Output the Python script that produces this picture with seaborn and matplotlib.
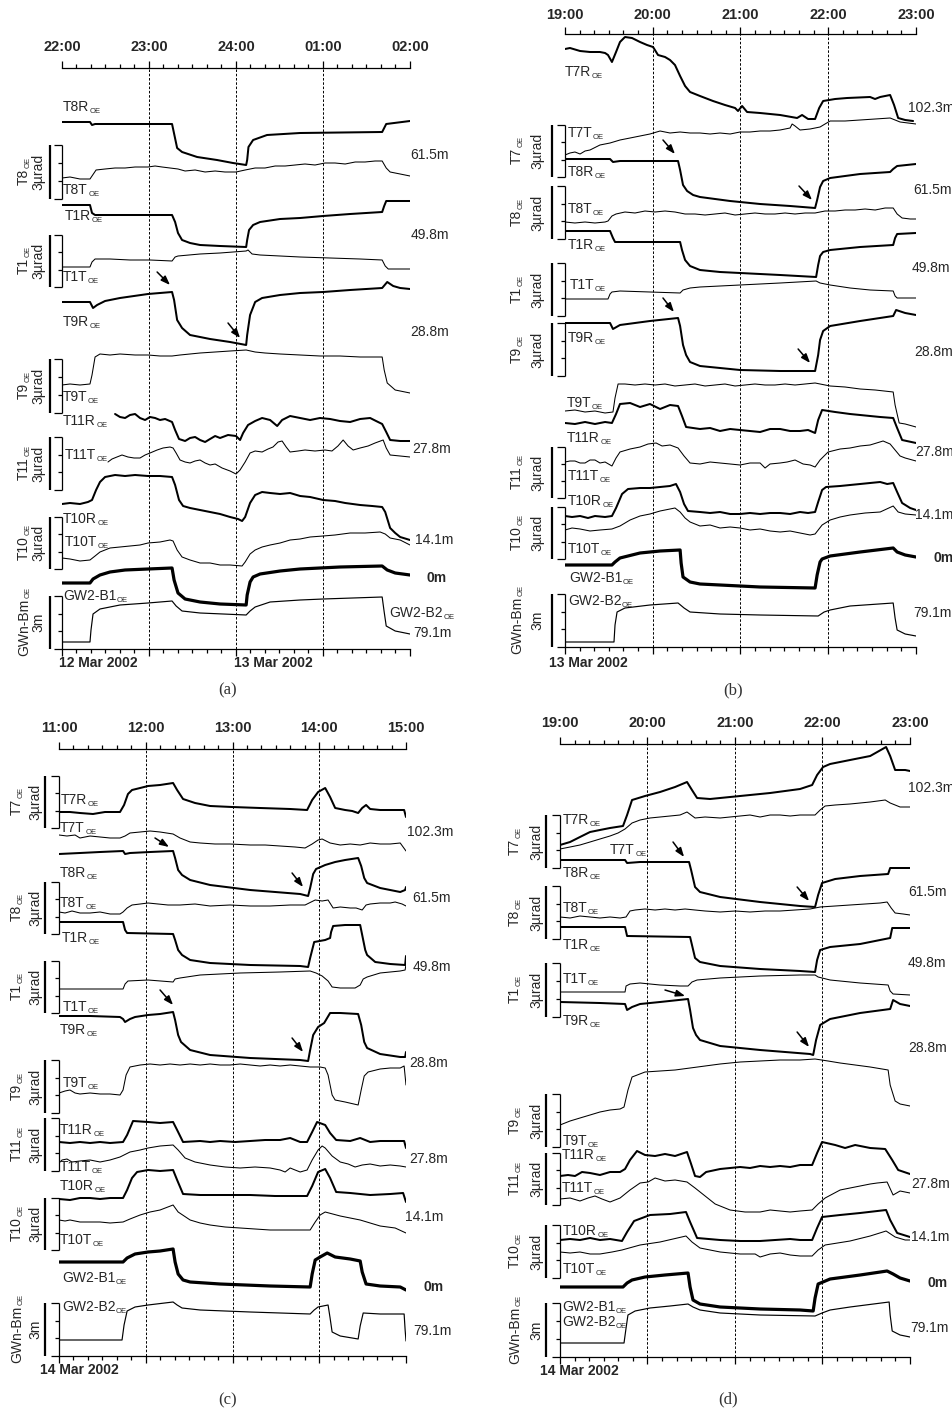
import matplotlib
matplotlib.use("Agg")
import matplotlib.pyplot as plt
import seaborn as sns

sns.set_style("white")
plt.rcParams["font.family"] = ["Liberation Sans", "DejaVu Sans"]

# Time axis: minutes from the first hour of each window.
# Trace values: stacked display offset (arbitrary units, increasing downwards).

# ---------------- (a) 12/13 Mar 2002, 22:00 - 02:00 ----------------
HOURS_A = ["22:00", "23:00", "24:00", "01:00", "02:00"]
A_T8R_T = [0, 19.3, 20.7, 22.8, 75.9, 79.4, 82.8, 93.2, 106.9, 117.9, 127.0, 127.7, 128.6, 131.8, 141.4, 164.2, 220.8, 222.2, 223.6, 240]
A_T8R_V = [54, 54, 57, 56, 56, 80, 84, 89, 92, 95, 97, 92, 79, 72, 67, 65, 64, 60, 56, 53]
A_T8T_T = [0, 5.5, 12.4, 19.3, 20.7, 23.5, 29.7, 36.6, 43.5, 50.4, 59.3, 64.2, 69, 74.5, 80, 84.9, 91.8, 98.7, 105.6, 112.4, 120, 126.3, 133.2, 140, 147, 153.9, 160.8, 167.6, 174.5, 181.4, 188.3, 195.3, 202.2, 209, 215.9, 220.8, 223.6, 226.3, 233.2, 240]
A_T8T_V = [110, 109, 111, 111, 108, 102, 101, 100, 100, 99, 99, 98, 99, 100, 101, 103, 102, 104, 103, 104, 104, 102, 100, 100, 98, 98, 97, 96, 97, 95, 95, 96, 94, 94, 93, 93, 100, 104, 106, 108]
A_T1R_T = [0, 19.3, 20.7, 22.8, 75.9, 78, 80, 82.8, 88.3, 95.2, 109, 127, 127.7, 129, 131.8, 136.6, 150.4, 164.2, 180.1, 198.7, 220.8, 222.2, 223.6, 240]
A_T1R_V = [137, 137, 145, 147, 147, 154, 165, 172, 175, 177, 178, 179, 172, 162, 157, 154, 151, 150, 148, 146, 144, 138, 133, 133]
A_T1T_T = [0, 19.3, 20.7, 22.8, 33.1, 46.9, 60.7, 75.9, 78, 80, 95.2, 109, 127, 128.3, 131.1, 136.6, 150.4, 164.2, 184.9, 205.6, 220.8, 222.9, 225, 240]
A_T1T_V = [199, 199, 194, 191, 191, 192, 192, 193, 189, 188, 186, 185, 183, 182, 186, 187, 188, 189, 190, 191, 192, 198, 201, 201]
A_T9R_T = [0, 19.3, 21.4, 24.2, 29.7, 40, 59.3, 75.9, 77.3, 79.4, 82.8, 88.3, 102.1, 115.9, 127, 127.7, 129.7, 133.2, 138, 150.4, 164.2, 180.1, 198.7, 220.8, 224.3, 228.4, 233.2, 240]
A_T9R_V = [234, 234, 240, 237, 233, 230, 226, 224, 232, 252, 260, 267, 271, 274, 277, 267, 247, 234, 230, 227, 225, 224, 222, 220, 214, 218, 220, 221]
A_T9T_T = [0, 5.5, 12.4, 19.3, 20.7, 22.8, 26.2, 33.1, 40, 50.4, 59.3, 67.6, 75.9, 81.4, 88.3, 95.2, 105.6, 115.9, 127, 133.2, 140, 150.4, 164.2, 177.9, 191.7, 205.6, 220.8, 222.2, 224.3, 229.8, 240]
A_T9T_V = [317, 316, 317, 316, 307, 289, 286, 287, 286, 287, 287, 288, 288, 287, 286, 285, 284, 283, 282, 284, 285, 286, 287, 288, 288, 289, 289, 302, 315, 322, 325]
A_T11R_T = [36.6, 40, 43.5, 46.9, 50.4, 53.8, 57.3, 60.7, 64.2, 67.6, 71.1, 75.9, 78, 80.7, 84.9, 88.3, 91.8, 95.2, 98.7, 102.1, 105.6, 109, 114.5, 120, 122.8, 124.9, 128.3, 133.2, 138, 143.5, 148.4, 151.8, 157.3, 164.2, 171.1, 177.9, 184.9, 191.7, 198.7, 205.6, 212.5, 216.6, 220.8, 223.6, 226.3, 233.2, 240]
A_T11R_V = [346, 349, 350, 347, 346, 350, 352, 349, 350, 352, 351, 354, 362, 371, 373, 370, 369, 372, 374, 371, 368, 370, 367, 368, 372, 365, 357, 353, 350, 352, 358, 352, 348, 350, 352, 350, 351, 353, 354, 351, 350, 353, 356, 364, 372, 373, 373]
A_T11T_T = [31.7, 34.5, 37.9, 41.4, 45.5, 49.7, 53.8, 57.3, 60.7, 65.6, 69.7, 74.5, 76.6, 78.7, 81.4, 84.9, 88.3, 91.8, 95.2, 98.7, 102.1, 105.6, 110.4, 115.9, 120, 122.8, 126.3, 129.7, 133.2, 138, 142.1, 145.5, 149, 151.8, 154.6, 157.3, 162.8, 167.6, 174.5, 181.4, 186.2, 190.3, 193.9, 197.3, 200.8, 205.6, 211.1, 215.9, 221.5, 223.6, 226.3, 233.2, 240]
A_T11T_V = [394, 391, 389, 387, 389, 390, 390, 387, 385, 382, 380, 379, 380, 385, 392, 394, 395, 393, 392, 395, 397, 396, 400, 403, 406, 402, 394, 385, 383, 384, 381, 379, 374, 373, 379, 384, 383, 382, 383, 382, 383, 378, 372, 378, 382, 380, 378, 375, 372, 380, 387, 388, 389]
A_T10R_T = [0, 5.5, 12.4, 17.9, 20.7, 23.5, 26.2, 29.7, 36.6, 43.5, 50.4, 59.3, 67.6, 75.9, 78, 80.7, 83.5, 88.3, 95.2, 102.1, 109, 115.9, 121.4, 124.2, 126.3, 129.7, 133.2, 138, 143.5, 150.4, 157.3, 164.2, 171.1, 180.1, 188.3, 195.3, 205.6, 213.9, 220.8, 222.9, 226.3, 229.8, 233.2, 240]
A_T10R_V = [436, 435, 436, 434, 432, 422, 414, 409, 407, 408, 407, 408, 408, 409, 417, 432, 438, 440, 442, 444, 446, 449, 451, 453, 449, 435, 427, 424, 425, 426, 425, 428, 429, 432, 433, 435, 437, 438, 439, 444, 460, 465, 469, 472]
A_T10T_T = [0, 5.5, 12.4, 19.3, 22.8, 26.2, 33.1, 40, 46.9, 53.8, 59.3, 67.6, 74.5, 76.6, 79.4, 82.8, 88.3, 95.2, 102.1, 109, 115.9, 124.2, 126.3, 129.7, 133.2, 138, 143.5, 150.4, 157.3, 164.2, 171.1, 180.1, 188.3, 198.7, 209, 219.4, 222.9, 226.3, 233.2, 240]
A_T10T_V = [490, 491, 493, 492, 488, 484, 480, 479, 478, 477, 475, 474, 472, 473, 482, 489, 492, 495, 495, 497, 497, 498, 494, 486, 482, 479, 477, 475, 472, 471, 469, 468, 467, 465, 465, 464, 466, 470, 472, 477]
A_B1_T = [0, 19.3, 21.4, 26.2, 33.1, 43.5, 59.3, 75.9, 77.3, 80, 84.9, 95.2, 109, 127, 127.7, 129.7, 131.8, 136.6, 150.4, 164.2, 191.7, 220.8, 224.3, 229.8, 240]
A_B1_V = [515, 515, 511, 507, 504, 502, 501, 500, 512, 525, 531, 534, 536, 537, 527, 514, 509, 506, 503, 501, 499, 498, 502, 505, 507]
A_B2_T = [0, 19.3, 20, 21.4, 26.2, 33.1, 40, 59.3, 75.9, 78.7, 82.8, 95.2, 127, 129.7, 133.2, 143.5, 164.2, 180.1, 220.8, 222.2, 223.6, 229.8, 240]
A_B2_V = [574, 574, 562, 546, 541, 539, 537, 535, 533, 538, 543, 545, 547, 543, 539, 534, 532, 531, 529, 544, 558, 563, 566]

# ---------------- (b) 13 Mar 2002, 19:00 - 23:00 ----------------
HOURS_B = ["19:00", "20:00", "21:00", "22:00", "23:00"]
B_T7R_T = [0, 3.4, 10.3, 17.1, 23.9, 27.4, 29.4, 32.1, 34.9, 37.6, 41, 45.8, 51.3, 56.1, 60.2, 63.6, 68.4, 71.8, 75.2, 78.7, 82.1, 85.5, 92.3, 101.2, 109.4, 116.3, 118.3, 121.1, 124.5, 133.4, 147.1, 158.7, 162.1, 166.2, 171, 173.8, 176.5, 184.7, 192.9, 208.6, 212, 215.5, 222.3, 225, 227.8, 232.6, 238]
B_T7R_V = [15, 14, 17, 18, 18, 19, 21, 28, 18, 8, 3, 4, 8, 11, 13, 21, 23, 26, 31, 42, 52, 58, 62, 67, 71, 74, 77, 72, 78, 79, 81, 84, 81, 85, 85, 74, 67, 65, 64, 63, 65, 63, 61, 71, 84, 86, 87]
B_T7T_T = [0, 3.4, 6.8, 10.3, 13.7, 17.1, 23.9, 30.8, 37.6, 44.5, 51.3, 58.1, 65, 71.8, 78.7, 85.5, 92.3, 99.2, 106, 112.9, 119.7, 126.5, 133.4, 140.2, 147.1, 153.9, 155.3, 157.3, 160.7, 167.6, 174.4, 177.8, 181.3, 191.5, 201.8, 212.1, 222.3, 229.1, 240]
B_T7T_V = [121, 119, 118, 120, 117, 116, 111, 109, 106, 104, 102, 100, 97, 99, 98, 99, 99, 100, 99, 100, 98, 98, 97, 97, 96, 94, 90, 92, 96, 95, 93, 90, 87, 87, 86, 85, 84, 88, 90]
B_T8R_T = [0, 30.8, 32.8, 37.6, 77.3, 78.7, 80.7, 83.5, 87.6, 92.3, 102.6, 112.9, 133.4, 153.9, 171, 172.4, 174.4, 176.5, 181.3, 191.5, 201.8, 222.3, 224.4, 227.1, 240]
B_T8R_V = [125, 125, 128, 127, 127, 136, 151, 157, 161, 163, 165, 167, 170, 172, 174, 166, 153, 147, 144, 142, 140, 138, 135, 132, 130]
B_T8T_T = [0, 6.8, 13.7, 20.5, 27.4, 29.4, 32.1, 34.9, 41, 47.9, 54.7, 61.6, 68.4, 75.2, 82.1, 88.9, 95.8, 102.6, 109.4, 116.3, 123.1, 129.9, 136.8, 143.6, 150.5, 157.3, 164.2, 171, 177.8, 184.7, 191.5, 198.4, 205.2, 212.1, 218.9, 224.4, 227.1, 230.5, 236, 240]
B_T8T_V = [188, 189, 188, 189, 188, 187, 182, 180, 178, 179, 177, 178, 177, 178, 180, 180, 181, 180, 179, 181, 180, 179, 180, 180, 179, 180, 179, 179, 177, 177, 176, 176, 175, 176, 174, 174, 180, 184, 185, 185]
B_T1R_T = [0, 30.8, 32.8, 34.2, 78.7, 80, 82.1, 85.5, 92.3, 106, 119.7, 147.1, 171.7, 173.1, 174.4, 176.5, 181.3, 201.8, 224.4, 225.7, 227.1, 240]
B_T1R_V = [197, 197, 204, 208, 208, 216, 226, 232, 236, 238, 239, 241, 243, 231, 222, 218, 216, 213, 211, 204, 200, 199]
B_T1T_T = [0, 29.4, 30.8, 32.1, 37.6, 58.1, 78.7, 80.7, 85.5, 92.3, 119.7, 147.1, 171.7, 174.4, 181.3, 194.9, 208.6, 224.4, 225.7, 227.1, 240]
B_T1T_V = [265, 265, 260, 258, 257, 258, 259, 256, 254, 253, 251, 249, 247, 249, 251, 254, 256, 257, 262, 264, 264]
B_T9R_T = [0, 30.8, 32.8, 37.6, 58.1, 77.3, 78.7, 80.7, 82.8, 85.5, 92.3, 106, 119.7, 147.1, 171, 173.1, 174.4, 176.5, 181.3, 201.8, 224.4, 226.4, 232.6, 240]
B_T9R_V = [289, 289, 295, 291, 287, 284, 292, 311, 321, 328, 332, 334, 336, 337, 337, 321, 306, 297, 292, 287, 282, 276, 279, 281]
B_T9T_T = [0, 6.8, 13.7, 20.5, 27.4, 32.8, 34.2, 36.3, 41, 47.9, 54.7, 61.6, 68.4, 75.2, 82.1, 88.9, 95.8, 102.6, 109.4, 116.3, 123.1, 129.9, 136.8, 143.6, 150.5, 157.3, 164.2, 171, 181.3, 191.5, 201.8, 212.1, 224.4, 225.7, 228.5, 232.6, 240]
B_T9T_V = [377, 376, 378, 377, 379, 378, 364, 350, 350, 351, 350, 351, 350, 352, 351, 350, 352, 351, 350, 352, 351, 350, 351, 351, 350, 351, 350, 349, 352, 353, 355, 356, 358, 371, 389, 390, 393]
B_T11R_T = [0, 6.8, 13.7, 20.5, 27.4, 32.1, 34.9, 37.6, 44.5, 51.3, 58.1, 65, 71.8, 77.3, 80, 82.8, 92.3, 99.2, 106, 112.9, 119.7, 126.5, 133.4, 140.2, 147.1, 153.9, 160.7, 166.2, 171, 173.1, 175.8, 184.7, 194.9, 201.8, 208.6, 215.5, 224.4, 227.1, 230.5, 240]
B_T11R_V = [389, 390, 388, 390, 388, 389, 380, 370, 369, 373, 370, 375, 371, 372, 382, 393, 395, 394, 397, 395, 396, 397, 398, 395, 395, 397, 397, 396, 399, 386, 376, 378, 380, 381, 382, 383, 384, 394, 406, 409]
B_T11T_T = [0, 3.4, 6.8, 10.3, 13.7, 17.1, 20.5, 23.9, 27.4, 32.1, 34.9, 37.6, 44.5, 51.3, 56.8, 62.3, 66.4, 71.8, 77.3, 81.4, 85.5, 92.3, 99.2, 106, 112.9, 119.7, 126.5, 133.4, 136.8, 140.2, 147.1, 151.9, 157.3, 162.8, 167.6, 171, 174.4, 179.9, 188.1, 194.9, 201.8, 208.6, 217.5, 222.3, 225.7, 229.1, 232.6, 240]
B_T11T_V = [428, 427, 427, 429, 429, 426, 426, 429, 428, 432, 424, 418, 415, 413, 410, 409, 412, 411, 414, 422, 429, 430, 428, 429, 430, 431, 429, 429, 434, 430, 429, 428, 426, 430, 431, 433, 426, 418, 415, 414, 412, 411, 407, 410, 416, 422, 424, 427]
B_T10R_T = [0, 4.8, 10.3, 15.7, 20.5, 27.4, 32.1, 34.9, 39, 43.1, 51.3, 58.1, 65, 71.8, 75.9, 78.7, 81.4, 84.1, 92.3, 99.2, 106, 112.9, 119.7, 126.5, 133.4, 140.2, 147.1, 153.9, 160.7, 166.2, 171, 173.1, 175.8, 178.5, 188.1, 194.9, 201.8, 208.6, 215.5, 220.3, 224.4, 227.1, 230.5, 236, 240]
B_T10R_V = [482, 483, 482, 484, 482, 483, 482, 474, 460, 455, 454, 454, 453, 452, 450, 458, 470, 477, 478, 479, 478, 480, 480, 479, 480, 479, 479, 480, 478, 479, 478, 468, 456, 453, 452, 451, 450, 449, 448, 450, 449, 458, 469, 474, 476]
B_T10T_T = [0, 4.8, 10.3, 17.1, 23.9, 32.1, 37.6, 44.5, 51.3, 58.1, 65, 75.2, 78.7, 82.1, 85.5, 92.3, 99.2, 106, 112.9, 119.7, 126.5, 133.4, 140.2, 147.1, 153.9, 160.7, 167.6, 171, 175.8, 181.3, 188.1, 194.9, 205.2, 215.5, 224.4, 227.8, 232.6, 240]
B_T10T_V = [496, 494, 495, 497, 496, 495, 492, 486, 482, 480, 477, 474, 478, 484, 488, 492, 491, 494, 493, 494, 496, 495, 497, 498, 497, 499, 501, 500, 491, 486, 483, 481, 479, 478, 472, 478, 480, 481]
B_B1_T = [0, 32.1, 34.2, 37.6, 51.3, 65, 78.7, 79.4, 80.7, 85.5, 92.3, 106, 133.4, 171, 172.4, 174.4, 175.8, 181.3, 201.8, 224.4, 227.1, 232.6, 240]
B_B1_V = [531, 531, 528, 524, 519, 517, 516, 529, 543, 548, 550, 551, 553, 554, 541, 528, 525, 522, 518, 514, 518, 521, 523]
B_B2_T = [0, 33.5, 34.2, 35.6, 41, 58.1, 77.3, 81.4, 85.5, 106, 133.4, 173.1, 177.2, 181.3, 194.9, 224.4, 225.7, 227.1, 232.6, 240]
B_B2_V = [608, 608, 591, 578, 574, 571, 569, 574, 578, 580, 581, 582, 578, 576, 572, 569, 584, 596, 600, 602]

# ---------------- (c) 14 Mar 2002, 11:00 - 15:00 ----------------
HOURS_C = ["11:00", "12:00", "13:00", "14:00", "15:00"]
C_T7R_T = [0, 7.6, 14.5, 23.5, 31.8, 42.2, 45, 47.7, 50.5, 56.1, 61.6, 69.9, 78.9, 81.7, 85.8, 94.1, 104.5, 119.7, 139.1, 159.9, 171.6, 175.1, 179.2, 184.1, 187.5, 191, 197.9, 202.8, 206.9, 209.7, 212.4, 215.2, 222.1, 229.1, 238.7, 240]
C_T7R_V = [63, 63, 64, 65, 63, 63, 56, 45, 41, 39, 37, 36, 34, 41, 50, 54, 57, 58, 59, 60, 61, 51, 43, 39, 48, 59, 61, 62, 64, 59, 56, 60, 61, 61, 61, 68]
C_T7T_T = [0, 5.5, 11.1, 14.5, 21.5, 28.4, 35.3, 42.2, 45.7, 49.1, 56.1, 63, 69.9, 78.9, 83.7, 90.7, 97.6, 107.9, 118.3, 132.2, 142.6, 152.9, 163.3, 170.2, 175.1, 179.2, 182, 187.5, 194.5, 201.4, 208.3, 215.2, 222.1, 229.1, 236, 240]
C_T7T_V = [86, 87, 86, 89, 87, 88, 89, 89, 87, 84, 83, 82, 83, 85, 89, 93, 94, 95, 95, 96, 96, 97, 98, 99, 95, 91, 90, 94, 96, 95, 96, 94, 95, 95, 94, 102]
C_T8R_T = [0, 14.5, 28.4, 44.3, 45.7, 49.1, 63, 78.9, 80.3, 82.4, 85.1, 90.7, 104.5, 132.2, 166.8, 172.3, 173.7, 175.8, 177.8, 184.1, 191, 197.9, 206.9, 209, 211.1, 213.1, 222.1, 236, 239.4, 240]
C_T8R_V = [105, 104, 103, 102, 105, 104, 103, 102, 109, 121, 126, 131, 136, 141, 145, 147, 139, 125, 120, 116, 113, 111, 109, 117, 129, 134, 139, 143, 141, 138]
C_T8T_T = [0, 4.2, 9, 14.5, 21.5, 28.4, 35.3, 42.2, 44.3, 47.1, 50.5, 56.1, 61.6, 68.5, 75.4, 83.7, 94.1, 104.5, 118.3, 132.2, 146, 159.9, 170.2, 177.2, 182, 186.1, 189.6, 194.5, 201.4, 205.5, 209.7, 212.4, 215.2, 222.1, 229.1, 232.5, 237.3, 240]
C_T8T_V = [163, 164, 162, 164, 164, 163, 165, 165, 163, 159, 156, 155, 154, 155, 156, 156, 155, 157, 156, 157, 157, 156, 156, 151, 152, 151, 159, 158, 159, 159, 161, 156, 155, 154, 154, 153, 155, 157]
C_T1R_T = [0, 44.3, 45.7, 47.1, 78.9, 80.3, 82.4, 85.1, 90.7, 104.5, 132.2, 166.8, 172.3, 173.7, 176.5, 184.1, 187.5, 188.2, 189.6, 197.9, 208.3, 209.7, 211.8, 213.1, 218.7, 229.1, 239.4, 240]
C_T1R_V = [173, 173, 181, 184, 185, 191, 201, 206, 211, 214, 216, 217, 218, 209, 193, 191, 189, 183, 177, 176, 176, 186, 201, 206, 213, 215, 216, 207]
C_T1T_T = [0, 44.3, 45.7, 47.7, 61.6, 78.9, 80.3, 83.7, 97.6, 125.3, 152.9, 173.7, 177.8, 182, 186.1, 188.9, 194.5, 204.8, 208.3, 210.4, 213.1, 222.1, 236, 239.4, 240]
C_T1T_V = [240, 240, 235, 232, 231, 233, 230, 229, 226, 224, 223, 222, 224, 227, 232, 238, 239, 239, 236, 230, 228, 224, 222, 221, 215]
C_T9R_T = [0, 21.5, 42.2, 44.3, 45.7, 49.1, 52.6, 61.6, 69.9, 78.9, 80.3, 82.4, 84.4, 90.7, 104.5, 132.2, 166.8, 172.3, 173.7, 175.8, 179.2, 183.4, 187.5, 194.5, 206.9, 209, 211.1, 213.1, 222.1, 236, 239.4, 240]
C_T9R_V = [267, 267, 268, 270, 273, 270, 268, 266, 265, 263, 271, 286, 293, 301, 306, 309, 311, 312, 301, 286, 278, 274, 264, 264, 265, 276, 293, 299, 305, 308, 308, 303]
C_T9T_T = [0, 4.2, 7.6, 11.1, 14.5, 21.5, 28.4, 35.3, 42.2, 44.3, 46.4, 49.1, 56.1, 63, 69.9, 76.8, 83.7, 90.7, 97.6, 104.5, 111.4, 118.3, 125.3, 132.2, 139.1, 146, 152.9, 159.9, 166.8, 173.7, 180.6, 184.1, 186.1, 188.9, 191, 197.9, 206.9, 209, 211.1, 213.8, 222.1, 229.1, 236, 238.7, 240]
C_T9T_V = [344, 342, 341, 344, 345, 344, 345, 345, 346, 341, 326, 318, 316, 315, 316, 315, 316, 315, 316, 315, 316, 316, 315, 316, 317, 316, 317, 316, 317, 318, 318, 319, 326, 346, 351, 353, 356, 341, 327, 323, 320, 319, 319, 317, 336]
C_T11R_T = [0, 7.6, 14.5, 21.5, 28.4, 35.3, 44.3, 47.1, 51.2, 61.6, 69.9, 78.9, 81.7, 85.8, 97.6, 104.5, 111.4, 121.8, 132.2, 142.6, 152.9, 159.9, 166.8, 171.6, 175.1, 178.5, 184.1, 187.5, 191.7, 201.4, 208.3, 215.2, 222.1, 229.1, 238.7, 240]
C_T11R_V = [393, 394, 393, 394, 393, 394, 393, 386, 372, 373, 374, 373, 381, 393, 392, 393, 392, 393, 392, 391, 391, 389, 393, 393, 383, 373, 376, 384, 391, 392, 389, 393, 392, 392, 392, 399]
C_T11T_T = [0, 2.1, 5.5, 9, 14.5, 21.5, 28.4, 35.3, 42.2, 49.1, 56.1, 61.6, 69.9, 78.9, 82.4, 87.2, 94.1, 104.5, 114.9, 125.3, 135.6, 146, 152.9, 156.4, 159.9, 163.3, 166.8, 171.6, 175.1, 179.2, 182, 184.1, 188.9, 194.5, 200, 204.8, 209.7, 215.2, 222.1, 229.1, 236, 240]
C_T11T_V = [414, 411, 410, 413, 412, 411, 413, 411, 408, 403, 401, 399, 397, 396, 401, 409, 413, 416, 418, 419, 418, 419, 421, 423, 419, 421, 423, 421, 411, 401, 397, 399, 407, 413, 415, 418, 416, 415, 417, 416, 417, 418]
C_T10R_T = [0, 7.6, 14.5, 21.5, 28.4, 35.3, 44.3, 47.1, 50.5, 54, 61.6, 69.9, 78.9, 81.7, 85.8, 97.6, 114.9, 132.2, 149.4, 166.8, 171.6, 175.1, 179.2, 184.1, 187.5, 191.7, 201.4, 215.2, 229.1, 238, 240]
C_T10R_V = [450, 451, 449, 449, 450, 449, 449, 441, 429, 423, 421, 422, 421, 431, 445, 446, 446, 446, 447, 447, 447, 437, 423, 420, 429, 443, 444, 446, 445, 444, 453]
C_T10T_T = [0, 4.2, 7.6, 14.5, 21.5, 28.4, 35.3, 44.3, 49.1, 56.1, 63, 69.9, 78.9, 82.4, 90.7, 97.6, 104.5, 114.9, 125.3, 135.6, 146, 156.4, 166.8, 173.7, 177.2, 180.6, 184.1, 194.5, 208.3, 215.2, 222.1, 232.5, 240]
C_T10T_V = [471, 472, 471, 473, 473, 473, 474, 473, 470, 466, 463, 461, 456, 463, 471, 474, 476, 478, 479, 480, 481, 481, 481, 481, 473, 466, 463, 467, 471, 474, 477, 479, 484]
C_B1_T = [0, 44.3, 47.1, 52.6, 61.6, 69.9, 78.9, 80.3, 82.4, 85.8, 90.7, 111.4, 146, 173.7, 175.1, 177.2, 180.6, 185.5, 191, 201.4, 208.3, 209.7, 212.4, 222.1, 236, 240]
C_B1_V = [513, 513, 509, 505, 503, 502, 500, 513, 525, 531, 533, 535, 537, 538, 525, 511, 508, 504, 508, 510, 512, 523, 535, 537, 538, 541]
C_B2_T = [0, 43.6, 45, 47.1, 52.6, 61.6, 78.9, 81.7, 85.1, 97.6, 132.2, 173.7, 176.5, 179.2, 186.1, 187.5, 188.9, 194.5, 206.9, 208.3, 210.4, 222.1, 238.7, 239.4, 240]
C_B2_V = [591, 591, 576, 562, 558, 556, 553, 556, 559, 561, 563, 565, 561, 558, 556, 569, 583, 587, 590, 577, 564, 565, 565, 581, 592]

# ---------------- (d) 14 Mar 2002, 19:00 - 23:00 ----------------
HOURS_D = ["19:00", "20:00", "21:00", "22:00", "23:00"]
D_T7R_T = [0, 6.9, 13.7, 20.6, 27.4, 34.3, 43.2, 46, 49.4, 58.3, 68.6, 78.9, 87.1, 90.5, 94, 102.9, 123.5, 144.1, 164.6, 172.9, 176.3, 180.4, 185.2, 198.9, 212.7, 223.6, 226.4, 229.8, 236.7, 240]
D_T7R_V = [101, 98, 93, 88, 86, 84, 82, 71, 56, 52, 48, 43, 38, 46, 54, 55, 52, 49, 45, 41, 31, 23, 20, 16, 12, 3, 12, 26, 26, 27]
D_T7T_T = [0, 6.9, 13.7, 20.6, 27.4, 34.3, 39.8, 44.6, 49.4, 54.9, 61.7, 68.6, 75.5, 82.3, 87.1, 92.6, 99.5, 109.8, 116.6, 123.5, 130.3, 137.2, 144.1, 150.9, 157.8, 164.6, 174.9, 178.4, 181.8, 188.7, 198.9, 205.8, 212.7, 223, 226.4, 233.2, 240]
D_T7T_V = [105, 103, 101, 98, 95, 92, 89, 85, 79, 76, 74, 73, 72, 71, 68, 74, 73, 74, 73, 72, 71, 73, 71, 71, 72, 71, 71, 66, 62, 61, 60, 59, 58, 56, 59, 63, 63]
D_T8R_T = [0, 44.6, 46, 54.9, 88.5, 89.9, 92.6, 96, 109.8, 137.2, 164.6, 174.9, 177, 179.7, 188.7, 205.8, 225, 226.4, 240]
D_T8R_V = [116, 116, 119, 118, 118, 126, 143, 148, 153, 158, 162, 163, 151, 139, 135, 132, 130, 124, 124]
D_T8T_T = [0, 6.9, 13.7, 20.6, 27.4, 34.3, 41.2, 45.3, 48, 51.5, 58.3, 65.2, 72, 78.9, 85.8, 92.6, 99.5, 109.8, 120.1, 130.3, 140.6, 150.9, 161.2, 171.5, 178.4, 188.7, 198.9, 209.2, 219.5, 224.3, 227.1, 229.8, 235.3, 240]
D_T8T_V = [173, 174, 172, 173, 174, 173, 174, 173, 167, 166, 165, 166, 165, 166, 165, 166, 167, 168, 167, 168, 167, 167, 166, 165, 163, 162, 161, 160, 159, 158, 164, 169, 170, 171]
D_T1R_T = [0, 44.6, 46, 89.2, 90.5, 92.6, 96, 109.8, 137.2, 164.6, 174.9, 176.3, 178.4, 185.2, 205.8, 226.4, 227.8, 240]
D_T1R_V = [183, 183, 192, 193, 201, 214, 218, 222, 225, 227, 228, 216, 206, 203, 200, 194, 184, 184]
D_T1T_T = [0, 44.6, 45.3, 48, 54.9, 68.6, 82.3, 87.8, 90.5, 94, 109.8, 137.2, 164.6, 174.9, 177, 185.2, 205.8, 225, 226.4, 228.4, 240]
D_T1T_V = [248, 248, 242, 240, 239, 241, 242, 242, 238, 236, 234, 232, 231, 231, 233, 236, 239, 241, 247, 250, 251]
D_T9R_T = [0, 27.4, 44.6, 46, 49.4, 54.9, 68.6, 87.8, 89.2, 91.2, 93.3, 96, 109.8, 137.2, 171.5, 173.6, 175.6, 178.4, 185.2, 205.8, 226.4, 228.4, 233.2, 240]
D_T9R_V = [258, 259, 260, 266, 263, 260, 258, 255, 266, 284, 291, 296, 302, 306, 310, 311, 296, 281, 275, 269, 265, 256, 260, 262]
D_T9T_T = [0, 6.9, 13.7, 20.6, 27.4, 34.3, 41.2, 43.9, 46.6, 49.4, 58.3, 68.6, 78.9, 89.2, 99.5, 109.8, 123.5, 137.2, 150.9, 164.6, 174.9, 183.8, 192.1, 202.4, 212.7, 225, 226.4, 229.8, 233.2, 240]
D_T9T_V = [381, 377, 374, 371, 368, 366, 365, 363, 346, 333, 328, 327, 326, 324, 322, 320, 318, 317, 316, 316, 315, 317, 319, 321, 323, 326, 341, 357, 360, 362]
D_T11R_T = [0, 5.5, 10.3, 15.1, 20.6, 27.4, 34.3, 41.2, 44.6, 48, 52.8, 58.3, 65.2, 72, 78.9, 87.1, 89.9, 92.6, 96, 100.2, 109.8, 123.5, 130.3, 137.2, 144.1, 150.9, 157.8, 164.6, 172.9, 176.3, 179.7, 188.7, 195.5, 202.4, 212.7, 223, 227.8, 231.9, 240]
D_T11R_V = [432, 431, 432, 428, 429, 431, 428, 428, 425, 416, 407, 411, 412, 410, 412, 408, 420, 432, 433, 428, 425, 423, 424, 422, 423, 422, 423, 421, 421, 409, 398, 401, 404, 401, 404, 405, 416, 426, 430]
D_T11T_T = [0, 6.9, 13.7, 19.2, 24, 28.8, 34.3, 41.2, 48, 54.9, 60.4, 65.2, 72, 78.9, 87.1, 92.6, 99.5, 106.4, 116.6, 126.9, 137.2, 144.1, 150.9, 157.8, 164.6, 172.9, 177, 181.8, 192.1, 198.9, 205.8, 212.7, 217.5, 224.3, 228.4, 233.2, 240]
D_T11T_V = [455, 454, 457, 454, 452, 455, 458, 454, 446, 439, 438, 434, 437, 436, 438, 444, 452, 460, 466, 468, 468, 466, 467, 468, 467, 466, 460, 454, 446, 444, 442, 440, 439, 438, 451, 447, 449]
D_T10R_T = [0, 6.9, 13.7, 20.6, 27.4, 34.3, 42.5, 46, 50.8, 61.7, 75.5, 86.4, 89.2, 94, 109.8, 123.5, 137.2, 147.5, 157.8, 164.6, 172.9, 176.3, 179.7, 192.1, 205.8, 223.6, 226.4, 231.2, 240]
D_T10R_V = [496, 495, 496, 494, 496, 495, 497, 488, 477, 471, 470, 468, 478, 494, 496, 497, 497, 496, 495, 496, 496, 484, 473, 471, 469, 466, 476, 489, 493]
D_T10T_T = [0, 6.9, 13.7, 20.6, 27.4, 35.7, 42.5, 54.9, 68.6, 86.4, 90.5, 96, 109.8, 123.5, 133.8, 137.2, 144.1, 150.9, 157.8, 164.6, 172.9, 177, 181.8, 198.9, 212.7, 223.6, 229.8, 236.7, 240]
D_T10T_V = [508, 509, 508, 510, 510, 508, 506, 501, 498, 492, 498, 504, 508, 510, 510, 513, 510, 509, 511, 512, 512, 506, 501, 497, 492, 487, 493, 496, 496]
D_B1_T = [0, 43.2, 46, 49.4, 58.3, 72, 87.8, 89.2, 91.2, 96, 109.8, 137.2, 164.6, 173.6, 174.9, 177, 185.2, 205.8, 224.3, 228.4, 233.2, 240]
D_B1_V = [543, 543, 539, 536, 533, 531, 529, 543, 556, 560, 563, 565, 566, 567, 554, 540, 535, 531, 527, 530, 534, 537]
D_B2_T = [0, 43.9, 45.3, 46.6, 51.5, 61.7, 75.5, 87.8, 91.2, 96, 109.8, 137.2, 174.9, 179.7, 185.2, 198.9, 225.7, 226.4, 227.8, 233.2, 240]
D_B2_V = [599, 599, 584, 571, 567, 564, 562, 560, 563, 566, 569, 571, 572, 569, 566, 563, 558, 571, 587, 591, 593]

# ---------------- drawing ----------------
W_PX, H_PX = 953, 1414
FS = 10
SUB_FS = 5.5
LW = {"R": 1.45, "T": 0.75, "B1": 2.3, "B2": 0.85}
URAD = "3\u00b5rad"


def trace(ax, t, v, kind):
    sns.lineplot(x=t, y=v, ax=ax, color="black", linewidth=LW[kind],
                 sort=False, estimator=None, legend=False)


def name_label(ax, x, y, main):
    t = ax.text(x, y, main, fontsize=FS, ha="left", va="center")
    ax.annotate("OE", xy=(1, 0), xycoords=t, xytext=(0.3, -1.0),
                textcoords="offset points", fontsize=SUB_FS, ha="left", va="bottom")


def scale_bar(ax, name, unit, top, bot, xs):
    x_out, x_name, x_unit = xs
    kw = dict(color="black", lw=0.9, clip_on=False, solid_capstyle="butt")
    ax.plot([0, 0], [top, bot], **kw)
    for y in (top, bot):
        ax.plot([-5.5, 0], [y, y], **kw)
    for f in (1 / 3, 2 / 3):
        y = top + (bot - top) * f
        ax.plot([-2.6, 0], [y, y], **kw)
    ax.plot([x_out, x_out], [top, bot], color="black", lw=1.6, clip_on=False,
            solid_capstyle="butt")
    mid = (top + bot) / 2
    t = ax.text(x_name, mid + 5, name, rotation=90, ha="center", va="center", fontsize=FS)
    ax.annotate("OE", xy=(1, 1), xycoords=t, xytext=(0.4, 0.6), textcoords="offset points",
                rotation=90, ha="right", va="bottom", fontsize=SUB_FS)
    ax.text(x_unit, mid, unit, rotation=90, ha="center", va="center", fontsize=FS)


def draw_panel(fig, p):
    x0, x1, top, bot = p["frame"]
    ax = fig.add_axes([x0 / W_PX, 1 - bot / H_PX, (x1 - x0) / W_PX, (bot - top) / H_PX])
    ax.set_xlim(0, 240)
    ax.set_ylim(bot - top, 0)
    for m in (60, 120, 180):
        ax.axvline(m, color="black", lw=0.7, ls=(0, (2.6, 1.8)), zorder=1)
    for t, v, kind in p["traces"]:
        trace(ax, t, v, kind)
    for main, x, y in p["names"]:
        name_label(ax, x, y, main)
    for txt, x, y, bold in p["depths"]:
        ax.text(x, y, txt, fontsize=10, ha="left", va="center",
                fontweight="bold" if bold else "normal")
    for name, unit, bt, bb in p["bars"]:
        scale_bar(ax, name, unit, bt, bb, p["bar_x"])
    for (tx, ty), (hx, hy) in p["arrows"]:
        ax.annotate("", xy=(hx, hy), xytext=(tx, ty),
                    arrowprops=dict(arrowstyle="-|>,head_length=0.6,head_width=0.22",
                                    color="black", lw=1.1, shrinkA=0, shrinkB=0,
                                    mutation_scale=9))
    for txt, x, y in p["dates"]:
        ax.text(x, y, txt, fontsize=10, fontweight="bold", ha="left", va="center")
    cx, cy = p["caption_xy"]
    ax.text(cx, cy, p["caption"], fontsize=12, ha="center", va="center",
            family=["Liberation Serif", "DejaVu Serif"], color="#333333")

    ax.set_xticks([0, 60, 120, 180, 240])
    ax.set_xticks(range(0, 241, 10), minor=True)
    ax.set_xticklabels(p["hours"], fontsize=10.5, fontweight="bold")
    ax.tick_params(axis="x", which="both", direction="out", top=True, bottom=True,
                   labeltop=True, labelbottom=False, width=0.9, color="black")
    ax.tick_params(axis="x", which="major", length=5, pad=p["pad"])
    ax.tick_params(axis="x", which="minor", length=3)
    ax.set_yticks([])
    ax.set_xlabel("")
    ax.set_ylabel("")
    for s in ("left", "right"):
        ax.spines[s].set_visible(False)
    for s in ("top", "bottom"):
        ax.spines[s].set_visible(True)
        ax.spines[s].set_linewidth(0.9)
        ax.spines[s].set_color("black")
    ax.patch.set_alpha(0)
    return ax


PANELS = [
    dict(frame=(62, 410, 68, 649), hours=HOURS_A, pad=5,
         traces=[(A_T8R_T, A_T8R_V, "R"), (A_T8T_T, A_T8T_V, "T"),
                 (A_T1R_T, A_T1R_V, "R"), (A_T1T_T, A_T1T_V, "T"),
                 (A_T9R_T, A_T9R_V, "R"), (A_T9T_T, A_T9T_V, "T"),
                 (A_T11R_T, A_T11R_V, "R"), (A_T11T_T, A_T11T_V, "T"),
                 (A_T10R_T, A_T10R_V, "R"), (A_T10T_T, A_T10T_V, "T"),
                 (A_B1_T, A_B1_V, "B1"), (A_B2_T, A_B2_V, "B2")],
         names=[("T8R", 0.7, 39), ("T8T", 0.7, 122), ("T1R", 2, 148), ("T1T", 0.7, 209),
                ("T9R", 0.7, 254), ("T9T", 0.7, 329), ("T11R", 0.7, 353), ("T11T", 2, 387),
                ("T10R", 0.7, 451), ("T10T", 2, 474), ("GW2-B1", 0.7, 528), ("GW2-B2", 226, 545)],
         depths=[("61.5m", 240.5, 87, False), ("49.8m", 240.5, 167, False),
                 ("28.8m", 240.5, 264, False), ("27.8m", 241.5, 381, False),
                 ("14.1m", 243.6, 472, False), ("0m", 251.5, 510, True),
                 ("79.1m", 242.2, 565, False)],
         bars=[("T8", URAD, 77, 131), ("T1", URAD, 167, 219), ("T9", URAD, 291, 345),
               ("T11", URAD, 369, 422), ("T10", URAD, 449, 501), ("GWn-Bm", "3m", 528, 581)],
         bar_x=(-8.3, -26.2, -16.6),
         arrows=[((65.6, 204), (74.5, 217)), ((114.5, 255), (122.8, 270))],
         dates=[("12 Mar 2002", -2, 595), ("13 Mar 2002", 118.7, 595)],
         caption="(a)", caption_xy=(113.9, 622)),
    dict(frame=(565, 916, 34, 647), hours=HOURS_B, pad=3.5,
         traces=[(B_T7R_T, B_T7R_V, "R"), (B_T7T_T, B_T7T_V, "T"),
                 (B_T8R_T, B_T8R_V, "R"), (B_T8T_T, B_T8T_V, "T"),
                 (B_T1R_T, B_T1R_V, "R"), (B_T1T_T, B_T1T_V, "T"),
                 (B_T9R_T, B_T9R_V, "R"), (B_T9T_T, B_T9T_V, "T"),
                 (B_T11R_T, B_T11R_V, "R"), (B_T11T_T, B_T11T_V, "T"),
                 (B_T10R_T, B_T10R_V, "R"), (B_T10T_T, B_T10T_V, "T"),
                 (B_B1_T, B_B1_V, "B1"), (B_B2_T, B_B2_V, "B2")],
         names=[("T7R", 0, 38), ("T7T", 2, 99), ("T8R", 2, 138), ("T8T", 2, 175),
                ("T1R", 2, 211), ("T1T", 3.4, 251), ("T9R", 2, 304), ("T9T", 1.4, 369),
                ("T11R", 1.4, 404), ("T11T", 2, 442), ("T10R", 2, 467), ("T10T", 2, 515),
                ("GW2-B1", 2.7, 544), ("GW2-B2", 2, 567)],
         depths=[("102.3m", 234.6, 74, False), ("61.5m", 238, 156, False),
                 ("49.8m", 237.3, 234, False), ("28.8m", 238.7, 318, False),
                 ("27.8m", 239.4, 418, False), ("14.1m", 239.4, 481, False),
                 ("0m", 252, 524, True), ("79.1m", 238, 579, False)],
         bars=[("T7", URAD, 91, 143), ("T8", URAD, 152, 205), ("T1", URAD, 229, 282),
               ("T9", URAD, 289, 342), ("T11", URAD, 413, 464), ("T10", URAD, 473, 525),
               ("GWn-Bm", "3m", 560, 613)],
         bar_x=(-8.9, -32.8, -19.2),
         arrows=[((67, 106), (75.2, 120)), ((160, 152), (168.9, 166)),
                 ((67, 264), (74.5, 278)), ((159.4, 315), (167.6, 329))],
         dates=[("13 Mar 2002", -10.9, 629)],
         caption="(b)", caption_xy=(114.9, 656)),
    dict(frame=(59, 406, 749, 1356), hours=HOURS_C, pad=5,
         traces=[(C_T7R_T, C_T7R_V, "R"), (C_T7T_T, C_T7T_V, "T"),
                 (C_T8R_T, C_T8R_V, "R"), (C_T8T_T, C_T8T_V, "T"),
                 (C_T1R_T, C_T1R_V, "R"), (C_T1T_T, C_T1T_V, "T"),
                 (C_T9R_T, C_T9R_V, "R"), (C_T9T_T, C_T9T_V, "T"),
                 (C_T11R_T, C_T11R_V, "R"), (C_T11T_T, C_T11T_V, "T"),
                 (C_T10R_T, C_T10R_V, "R"), (C_T10T_T, C_T10T_V, "T"),
                 (C_B1_T, C_B1_V, "B1"), (C_B2_T, C_B2_V, "B2")],
         names=[("T7R", 1.4, 51), ("T7T", 0.7, 79), ("T8R", 0.7, 124), ("T8T", 0.7, 154),
                ("T1R", 2, 189), ("T1T", 2.8, 258), ("T9R", 0.7, 281), ("T9T", 2.8, 334),
                ("T11R", 0.7, 381), ("T11T", 0.7, 418), ("T10R", 0.7, 437), ("T10T", 0.7, 491),
                ("GW2-B1", 2, 529), ("GW2-B2", 2, 558)],
         depths=[("102.3m", 240.8, 83, False), ("61.5m", 244.3, 149, False),
                 ("49.8m", 244.3, 218, False), ("28.8m", 242.2, 314, False),
                 ("27.8m", 242.2, 410, False), ("14.1m", 239.4, 468, False),
                 ("0m", 251.9, 538, True), ("79.1m", 245, 582, False)],
         bars=[("T7", URAD, 27, 79), ("T8", URAD, 133, 185), ("T1", URAD, 212, 264),
               ("T9", URAD, 311, 364), ("T11", URAD, 369, 422), ("T10", URAD, 449, 501),
               ("GWn-Bm", "3m", 554, 607)],
         bar_x=(-9.7, -29, -16.6),
         arrows=[((66.4, 89), (76.1, 98)), ((161.2, 124), (168.8, 138)),
                 ((69.9, 241), (78.9, 256)), ((161.2, 289), (168.8, 303))],
         dates=[("14 Mar 2002", -13.1, 621)],
         caption="(c)", caption_xy=(116.3, 651)),
    dict(frame=(560, 910, 744, 1357), hours=HOURS_D, pad=5,
         traces=[(D_T7R_T, D_T7R_V, "R"), (D_T7T_T, D_T7T_V, "T"),
                 (D_T8R_T, D_T8R_V, "R"), (D_T8T_T, D_T8T_V, "T"),
                 (D_T1R_T, D_T1R_V, "R"), (D_T1T_T, D_T1T_V, "T"),
                 (D_T9R_T, D_T9R_V, "R"), (D_T9T_T, D_T9T_V, "T"),
                 (D_T11R_T, D_T11R_V, "R"), (D_T11T_T, D_T11T_V, "T"),
                 (D_T10R_T, D_T10R_V, "R"), (D_T10T_T, D_T10T_V, "T"),
                 (D_B1_T, D_B1_V, "B1"), (D_B2_T, D_B2_V, "B2")],
         names=[("T7R", 2, 76), ("T7T", 34.3, 106), ("T8R", 2, 129), ("T8T", 2, 164),
                ("T1R", 2, 201), ("T1T", 2, 235), ("T9R", 2, 277), ("T9T", 2, 397),
                ("T11R", 1.4, 411), ("T11T", 1.4, 444), ("T10R", 2, 487), ("T10T", 2, 525),
                ("GW2-B1", 1.4, 563), ("GW2-B2", 1.4, 578)],
         depths=[("102.3m", 238.7, 44, False), ("61.5m", 238.7, 148, False),
                 ("49.8m", 238.7, 219, False), ("28.8m", 238.7, 304, False),
                 ("27.8m", 240.8, 440, False), ("14.1m", 240.8, 493, False),
                 ("0m", 251.8, 539, True), ("79.1m", 240.1, 584, False)],
         bars=[("T7", URAD, 71, 124), ("T8", URAD, 142, 195), ("T1", URAD, 219, 273),
               ("T9", URAD, 350, 403), ("T11", URAD, 409, 461), ("T10", URAD, 481, 534),
               ("GWn-Bm", "3m", 559, 613)],
         bar_x=(-9.6, -30.9, -16.5),
         arrows=[((77.5, 98), (85.1, 113)), ((162.6, 143), (170.8, 157)),
                 ((72, 246), (85.8, 252)), ((162.6, 288), (170.8, 303))],
         dates=[("14 Mar 2002", -13.7, 627)],
         caption="(d)", caption_xy=(115.2, 655)),
]

fig = plt.figure(figsize=(W_PX / 100, H_PX / 100), dpi=100, facecolor="white")
for panel in PANELS:
    draw_panel(fig, panel)
fig.savefig("out.png", dpi=100, facecolor="white")
